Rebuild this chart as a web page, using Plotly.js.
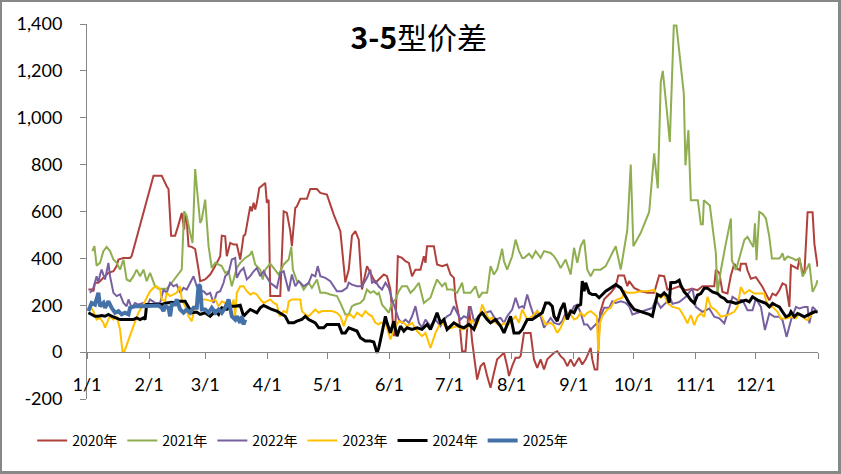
<!DOCTYPE html>
<html>
<head>
<meta charset="utf-8">
<script src="https://cdn.plot.ly/plotly-3.0.1.min.js"></script>
<style>
  html, body { margin: 0; padding: 0; background: #fff; }
  #wrap { position: relative; width: 841px; height: 474px; }
  #chart { width: 841px; height: 474px; }
  #frame { position: absolute; left: 0; top: 0; width: 841px; height: 474px; box-sizing: border-box;
           border-style: solid; border-color: #878787; border-width: 2px 3px 3px 2px; pointer-events: none; }
</style>
</head>
<body>
<div id="wrap"><div id="chart"></div><div id="frame"></div></div>
<script>
// ---- data: day of year (0 = 1/1) and spread value ----
const seriesNames = ['2020年', '2021年', '2022年', '2023年', '2024年', '2025年'];

const day2020 = [0.7,2.3,3.2,4,5.7,7.3,9,10.7,13.2,14.8,15.7,18.2,21.5,22.3,33.2,37.3,39.8,40.7,42,44,45.7,47.3,48.5,49,49.8,50.7,52.3,54,55.7,56.5,59,61.5,64,66.5,67.3,69,69.8,71.5,73.2,74.8,76.5,78.2,79,80.7,81.5,82.3,83.2,84,84.8,86,88.2,89,89.8,90.7,91.5,96.5,98.2,99.8,101.5,102.3,104,104.8,106.5,109.8,111.5,114.8,116.5,119.8,123.2,126.5,129,130.7,132.3,134,135.7,137.3,139.8,141.5,144,148.2,149.8,151.5,153.2,154,155.2,157.3,159,160.7,162.3,164,166.5,168.2,169,169.8,173.2,174.8,177.3,179.8,181.5,183.2,184,185.7,186.5,187.3,189,190.7,192.3,194.8,196.5,198.2,199.8,201.5,203.2,204.8,206.5,208.2,209.8,210.7,212.3,214,215.7,216.5,218.2,221.5,223.2,224.8,226.5,228.2,229.8,231.5,233.2,234.8,236.5,238.2,239.8,241.5,243.2,245.7,247.3,249,251.5,252.3,253.5,254.8,256.2,258.2,259.8,261.5,264,265.3,268.2,269.8,270.7,273.2,276.5,279.8,283.2,285.7,288.2,289.8,292.3,295.7,299,302.3,304.8,307.3,313.2,314,315.7,317.3,319.8,321.5,323.2,324.8,326,326.5,329,329.8,331.5,334,337.3,339,340.7,342.3,344,345.7,347.3,349,350.7,351.5,353.2,354.8,355.7,357.3,358.2,359.8,362.3,363.2,364.8];
const val2020 = [267,267,260,296,296,310,324,338,345,367,395,402,402,410,753,753,708,696,497,497,544,594,523,583,560,452,449,440,352,303,310,331,367,409,497,494,409,466,459,459,395,497,501,594,622,601,637,608,637,700,719,722,637,650,239,239,601,594,516,452,615,622,654,654,696,696,679,672,587,516,298,352,497,516,480,267,367,338,296,331,324,267,68,111,409,402,388,381,324,352,352,409,381,452,452,374,367,374,331,317,225,153,82,4,4,196,47,-117,-60,-45,-102,-152,-88,-31,-17,-3,-60,-102,-60,-24,-24,-17,82,82,-31,-67,-31,-74,-31,-17,-3,4,-17,-31,-60,-31,-60,-24,-53,-31,18,-31,-74,-74,168,225,239,253,281,327,327,281,303,274,260,253,253,327,324,267,270,281,264,270,264,281,281,352,338,257,250,327,377,356,349,377,377,349,313,320,278,250,221,250,242,264,293,286,193,371,364,356,398,341,334,597,597,462,364];

const day2021 = [2.7,3.7,4.8,6.5,8.2,9.8,11.5,13.2,14.8,16.5,18.2,19.8,21.5,23.2,24.8,26.5,28.2,29.8,31.5,34,35.7,39.8,42.3,45.7,47.3,48.5,49.8,51.5,52.7,54,55.2,56.5,57.3,59,60.7,62.3,64,65.7,67.3,69,70.7,72.3,74.8,76.5,79,81.5,82.3,84,86.5,87.7,89,91.5,93.2,95.7,98.2,100.7,102,102.8,104.8,106.5,108.2,110.7,112.3,114.8,116.5,119,121.5,124.8,126.5,129,130.7,132.3,134,136.5,138.2,139.8,141.5,143.2,144.8,145.7,147.3,150.7,152.3,154,155.7,157.3,159.8,161.5,163.2,165.7,168.2,171.5,173.2,174.8,177.3,179,179.8,182.3,184.8,187.3,188.2,191.5,194,195.7,197.3,199.8,201.5,203.2,204.8,207.3,208.2,209.8,212.3,214,215.7,217.3,218.2,220.7,222.3,224,226.5,228.2,231.5,233.2,234.8,236.5,239,241.5,243.2,244.8,246.5,248.2,249.8,251.5,253.2,256.5,259,261.5,264,266.5,269.8,271.5,272.8,276.5,280.7,283.2,285,286.5,287.5,289.5,291,293,294.3,298,298.8,300.3,301.5,305,306.5,307.5,308,311,314,314.8,316.5,319,321.5,322,324,325.7,328.2,329.8,331.5,332.7,333.5,334.3,335.7,337.3,339,340.7,342,345.7,346.5,347.3,348.2,349.8,352.3,354,355.7,356.5,357.3,359,360.7,362.3,364,364.8];
const val2021 = [431,452,369,381,431,449,431,395,381,352,395,310,303,324,352,324,352,303,338,281,270,270,296,331,352,601,580,509,466,781,680,551,565,651,452,359,381,374,367,338,345,281,359,381,402,416,431,374,352,310,352,378,359,331,374,395,449,352,303,296,267,296,274,310,253,253,246,239,210,161,161,196,203,210,225,267,253,260,246,253,203,168,210,225,260,281,281,253,267,296,210,232,274,310,281,296,267,267,253,296,253,253,281,232,253,253,367,331,352,441,388,352,409,480,431,402,402,420,402,431,402,431,423,409,388,359,395,331,445,381,452,480,352,324,352,352,367,409,452,352,523,800,452,509,598,848,699,1153,1200,1032,897,1394,1394,1103,797,947,648,648,546,546,648,626,422,251,350,464,570,392,350,400,478,492,464,448,550,392,598,590,570,492,400,400,408,422,392,408,400,392,400,350,322,350,378,257,286,307];

const day2022 = [1.5,3.2,4.8,5.7,6.5,7.3,9,9.8,10.7,11.5,13.2,14.8,16.5,18.2,19.8,20.7,22.3,24,25.7,28.2,29.8,31.5,34,36.5,38.2,39.8,41.5,43.2,44.8,46.5,48.2,49.8,51.5,53.2,54.8,56.5,58.2,59.8,61.5,63.2,64.8,66.5,68.2,69,70.7,72.3,74,74.8,76.5,78.2,79.8,81.5,83.2,84.8,86.5,88.2,89,91.5,94.8,96.5,98.2,99.8,100.7,102.3,104,105.7,108.2,110.7,112.3,114,115.2,116.5,119,121.5,124.8,127.3,129.8,130.7,132.3,134.8,137.3,139.8,141.5,142.3,144,145.7,147.3,149,150.7,152.3,154,155.7,157.3,159,160.7,162.3,164,165.7,167.3,169,171.5,174,176.5,178.2,179.8,181.5,183.2,184.8,186.5,188.2,189.8,191.5,193.2,194.8,196.5,199,201.5,204,206.5,208.2,209.8,212.3,214,215.7,217.3,218.2,219.8,221.5,223.2,224.8,226.5,228.2,229.8,231.5,233.2,235.7,237.3,239,241.5,243.2,244.8,246.5,248.2,249.8,251.5,253.2,254.8,256.5,258.2,260.7,262.3,264,266.5,269,270.7,272.3,274.8,277.3,279.8,282.3,284,286.5,289,291.5,292.3,295.7,299,302.3,304,307.3,310.7,313.2,315.7,318.2,319.8,322.3,324.8,327.3,329.8,332.3,334,336.5,338.5,340.7,343.2,345.7,347.3,349.3,351.5,354,355.7,358.2,359.8,360.7,362.3,364];
const val2022 = [253,274,324,296,331,352,310,352,381,324,253,239,246,210,196,225,189,210,203,210,196,225,210,210,267,253,296,281,288,253,274,267,296,324,281,260,260,246,253,210,253,260,296,324,338,395,402,317,345,359,310,324,345,359,324,345,331,296,274,338,345,296,260,331,281,303,281,296,331,324,367,324,317,303,260,260,274,296,288,281,281,317,352,296,303,280,267,296,274,225,182,139,125,139,125,153,196,125,104,139,111,139,111,139,153,161,196,168,139,153,146,196,132,146,161,168,175,139,146,125,153,182,232,189,196,189,246,196,153,175,153,104,125,146,125,118,132,168,168,196,203,168,118,118,97,111,125,153,189,189,217,210,217,210,196,161,168,175,182,189,225,189,210,225,206,214,236,273,193,172,186,151,144,123,165,236,222,222,179,179,229,193,94,165,151,151,136,65,136,193,186,193,193,123,193,179];

const day2023 = [1.5,3.2,4.8,6.5,8.2,9,10.7,11.5,13.2,14.8,16.5,17.7,18.7,20.7,23.2,25.7,28.2,29.8,31.5,33.2,34.8,36.5,37.3,39,39.8,41.5,43.2,44.8,46.5,47.3,49,50.7,52.3,54,55.7,57.3,59,62.3,64,65.7,67.3,69,70.7,72.3,73.2,74,74.8,76.5,78.2,79.8,81.5,83.2,84.8,86.5,88.2,89.8,91.5,93.2,94.8,96.2,98.2,99.8,100.7,102.3,106.5,107.3,109,110.7,112.3,114,115.7,117.3,119.8,122.3,124.8,126.5,128.2,129.8,131.5,133.2,134.8,137.3,139,140.7,142.3,144,145.7,146.5,149,151.5,153.2,155.7,158.2,159.8,162.3,164.8,167.3,169,171.5,174,176.5,178.2,179.8,182.3,184.8,187.3,189.8,192.3,194,195.7,197.3,199,200.7,202.3,204,206.5,208.2,209.8,212.3,214,215.7,217.3,219.8,222.3,224.8,226.5,229,231.5,233.2,234.8,236.5,238.2,239.8,241.5,243.2,244.8,246.5,248.2,249.8,251.5,253.2,254.5,255.3,256.2,257.3,259.8,261.5,263.2,264.8,267.3,268.5,269.8,273.2,276.5,279.8,283.2,284.8,286.5,288.2,289.8,292.3,295.7,298.2,299.8,301.5,303.2,304.8,306.5,308.2,309.8,311.5,314,316.5,319.8,321.5,323.2,324.8,326.5,328.2,330.7,333.2,338.2,339,340.7,342.3,344.8,346.5,349,351.5,354,355.7,358.2,359.8,361.5,363.2,364.8];
const val2023 = [196,175,139,146,125,104,139,153,139,153,97,4,4,54,111,168,203,232,260,274,281,267,225,217,253,239,246,253,281,225,196,153,132,196,210,225,225,217,225,196,217,210,210,196,225,153,253,281,281,260,246,253,246,225,210,217,225,210,203,153,175,168,217,225,225,175,161,153,168,182,168,175,175,175,168,153,111,153,161,146,168,153,175,161,153,125,118,125,125,54,97,132,125,111,125,90,68,82,18,82,125,118,97,104,111,97,104,139,104,139,203,168,139,146,125,111,125,111,139,153,125,182,139,153,175,161,118,125,111,82,104,139,168,161,139,146,168,153,168,175,161,153,4,125,153,182,189,217,225,232,260,253,253,260,260,267,239,232,246,209,193,186,151,123,158,115,151,165,151,236,193,179,151,158,165,172,193,278,250,264,250,250,222,193,193,172,144,144,151,144,165,144,136,158,172,172];

const day2024 = [0.7,2.3,4,5.7,7.3,9,10.7,12.3,14.8,16.5,19,21.5,23.2,24.8,26.5,28.2,29,29.8,32.3,34.8,37.3,39.8,42.3,44,45.7,49,50.7,52.3,54.8,56.5,59,61.5,64,65.7,67.3,69.8,72.3,74,76.5,78.2,79.8,81.5,83.2,84.8,86.5,88.2,90.7,92.3,94.8,97.3,99,100.7,103.2,104.8,107.3,109,110.7,112.3,114,115.7,118.2,119.8,123.2,125.7,127.3,129,130.7,133.2,134.8,136.5,139,141.5,143.2,144.8,145.7,147.3,149,149.8,151.5,153.2,154.8,156.5,158.2,159.8,162.3,164.8,167.3,169.8,171.5,173.2,174.8,176.5,178.2,179.8,181.5,183.2,185.7,188.2,190.7,193.2,195.7,197.3,199.8,201.5,204,206.5,208.2,209.8,211.5,213.2,215.7,217.3,219,219.8,222.3,224.8,227.3,229,230.7,232.3,233.2,234.8,236.5,238.2,239.8,241.5,243.2,244.8,246.5,247.3,248.2,249,250.7,252.3,254,255.7,257.3,259,261.5,264,266.5,269,270.7,273.2,275.7,278.2,280.7,282.3,284.8,286.5,288.2,289.8,290.7,291.5,294,295.7,296.5,298.2,299.8,301.5,303.2,304.8,306.5,308.2,309.8,312.3,314.8,316.5,318.2,319.8,321.5,324,326.5,329,330.7,332.3,334.8,337.3,339,340.7,342.3,344,345.7,347.3,349,350.7,351.5,353.2,354.8,356.5,358.2,359.8,361.5,363.2,364.8];
const val2024 = [168,161,153,153,156,153,161,153,146,139,139,139,139,146,139,146,139,203,203,206,203,210,213,210,217,217,189,168,171,161,168,153,175,161,189,182,196,196,200,153,168,182,175,168,189,199,189,182,175,161,153,125,125,132,139,153,139,132,125,104,104,118,118,118,82,82,104,94,90,61,47,47,43,-3,18,82,153,125,82,132,68,111,90,104,97,104,97,118,97,132,168,125,139,97,111,125,111,104,118,97,153,168,139,125,139,111,82,118,153,82,82,97,125,139,139,153,168,210,210,196,153,132,182,210,139,175,168,196,203,303,260,296,253,246,246,232,246,260,274,288,274,239,210,182,175,168,161,153,246,239,253,239,210,296,298,307,286,257,243,222,209,243,250,273,273,257,250,236,229,215,215,208,215,222,215,236,222,215,208,193,208,200,193,172,151,158,172,151,165,158,151,158,165,172,172,165];

const day2025 = [0.7,2.3,4,4.8,5.7,6.5,8.2,9,10.7,12.3,14,15.7,17.3,19,20.7,21.5,24,27.3,30.7,34,35.7,37.3,38.2,39,40.7,41.5,42.3,44,44.8,46.5,48.2,49.8,51.5,53.2,54.8,55.7,56.5,57.3,59,60.7,62.3,64,65.7,67.3,69,70.7,72.3,74,74.8,76.5,77.3,78.2,79];
const val2025 = [175,210,203,231,253,196,210,189,217,189,168,175,161,168,161,189,196,196,196,196,199,189,175,196,189,153,203,203,225,182,168,182,168,189,189,288,281,182,182,168,189,168,182,168,189,225,153,139,153,125,153,118,139];

const yTickVals = [-200, 0, 200, 400, 600, 800, 1000, 1200, 1400];
const yTickText = ['-200', '0', '200', '400', '600', '800', '1,000', '1,200', '1,400'];
const xTickVals = [0, 31, 59, 90, 120, 151, 181, 212, 243, 273, 304, 334, 365];
const xTickText = ['1/1', '2/1', '3/1', '4/1', '5/1', '6/1', '7/1', '8/1', '9/1', '10/1', '11/1', '12/1', ''];

// ---- styling ----
const colors = ['#B0403C', '#8FAE50', '#7860A0', '#FFC000', '#000000', '#4472A8'];
const widths = [2, 2, 2, 2, 3, 4];
const xs = [day2020, day2021, day2022, day2023, day2024, day2025];
const ys = [val2020, val2021, val2022, val2023, val2024, val2025];

const traces = seriesNames.map((n, i) => ({
  type: 'scatter', mode: 'lines', name: n,
  x: xs[i], y: ys[i],
  line: { color: colors[i], width: widths[i] },
  hoverinfo: 'skip'
}));

const tickFont = { family: 'Lato, "Noto Sans", sans-serif', size: 18, color: '#000' };

const layout = {
  width: 841, height: 474,
  margin: { l: 87, r: 23, t: 24, b: 75, pad: 0 },
  paper_bgcolor: '#fff', plot_bgcolor: '#fff',
  showlegend: true,
  title: {
    text: '<b>3-5</b>型价差',
    font: { family: '"Noto Sans CJK SC", sans-serif', size: 30, color: '#000' },
    x: 0.454, xref: 'paper', xanchor: 'center',
    y: 0.918, yref: 'container', yanchor: 'middle'
  },
  xaxis: {
    range: [0, 365], tickmode: 'array', tickvals: xTickVals, ticktext: xTickText,
    anchor: 'free', position: 0.125,
    showline: true, linecolor: '#868686', linewidth: 1,
    ticks: 'outside', ticklen: 6, tickcolor: '#868686', tickwidth: 1,
    showgrid: false, zeroline: false, tickfont: tickFont, ticklabelstandoff: 10
  },
  yaxis: {
    range: [-200, 1400], tickmode: 'array', tickvals: yTickVals, ticktext: yTickText,
    showline: true, linecolor: '#868686', linewidth: 1,
    ticks: 'outside', ticklen: 6, tickcolor: '#868686', tickwidth: 1,
    showgrid: false, zeroline: false, tickfont: tickFont, ticklabelstandoff: 14
  },
  legend: {
    orientation: 'h', x: -0.075, xanchor: 'left', y: -0.112, yanchor: 'middle',
    font: { family: '"Noto Sans CJK SC", sans-serif', size: 14, color: '#000' },
    itemwidth: 30,
    bgcolor: 'rgba(0,0,0,0)', borderwidth: 0
  }
};

Plotly.newPlot('chart', traces, layout, { displayModeBar: false, staticPlot: true });
</script>
</body>
</html>
